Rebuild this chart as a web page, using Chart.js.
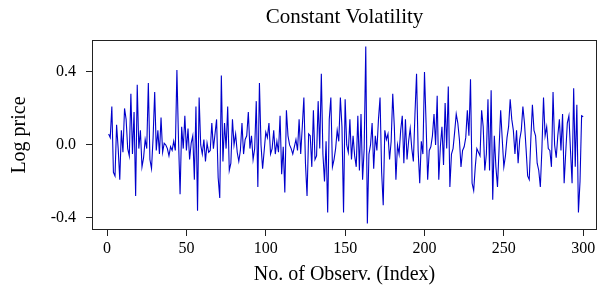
<!DOCTYPE html>
<html>
<head>
<meta charset="utf-8">
<script src="https://cdn.jsdelivr.net/npm/chart.js@4/dist/chart.umd.min.js"></script>
<style>
  html, body { margin: 0; padding: 0; background: #fff; }
  #wrap { width: 603px; height: 303px; }
</style>
</head>
<body>
<div id="wrap"><canvas id="c" width="603" height="303"></canvas></div>
<script>
const obs001 = [
  0.06, 0.04, 0.21, -0.15, -0.17, 0.11, -0.02, -0.19, 0.08, -0.04,
  0.20, 0.14, -0.02, -0.06, 0.28, -0.05, 0.18, -0.28, 0.33, -0.02,
  0.08, -0.12, -0.07, 0.03, -0.02, 0.34, -0.08, -0.13, 0.04, 0.29,
  -0.03, 0.08, -0.05, 0.15, -0.04, 0.01, 0.00, -0.02, -0.06, -0.01,
  -0.03, 0.02, -0.03, 0.41, 0.03, -0.27, 0.10, -0.02, 0.16, -0.03
];
const obs051 = [
  0.09, -0.08, 0.01, 0.05, -0.19, 0.21, -0.36, 0.26, 0.00, -0.05,
  0.03, -0.09, 0.01, -0.04, -0.03, 0.12, -0.02, 0.06, 0.14, -0.18,
  -0.29, 0.38, -0.09, 0.12, -0.02, 0.21, -0.14, -0.10, 0.14, 0.00,
  0.06, -0.04, -0.09, -0.03, 0.12, -0.05, 0.03, 0.05, 0.18, -0.02,
  0.05, -0.08, -0.02, 0.24, -0.23, 0.34, 0.00, -0.13, -0.03, 0.07
];
const obs101 = [
  0.04, 0.12, -0.05, -0.02, 0.08, -0.05, 0.02, -0.04, 0.16, -0.16,
  -0.01, -0.26, 0.19, 0.05, 0.00, -0.02, -0.05, -0.01, 0.03, -0.03,
  0.14, -0.05, 0.10, 0.26, -0.10, -0.28, 0.06, 0.05, -0.12, 0.19,
  -0.08, -0.06, 0.24, -0.02, 0.39, -0.05, -0.20, 0.02, -0.37, 0.14,
  0.26, -0.12, -0.08, -0.02, 0.08, 0.02, 0.26, 0.10, -0.37, 0.25
];
const obs151 = [
  0.00, -0.04, 0.14, -0.08, 0.05, -0.06, -0.12, 0.16, -0.14, 0.17,
  -0.19, -0.02, 0.54, -0.43, -0.05, 0.00, 0.12, -0.13, 0.05, -0.03,
  0.14, 0.26, -0.15, -0.33, 0.08, 0.03, 0.06, -0.08, 0.02, 0.28,
  0.10, -0.19, 0.00, -0.05, 0.08, 0.16, -0.10, 0.14, -0.08, 0.02,
  0.09, -0.02, -0.09, 0.17, 0.39, -0.03, -0.21, 0.02, -0.05, 0.40
];
const obs201 = [
  0.12, -0.19, -0.03, -0.01, 0.05, 0.17, 0.00, 0.27, -0.19, -0.01,
  0.10, -0.11, 0.23, -0.02, 0.32, -0.23, -0.05, -0.02, 0.07, 0.17,
  0.12, 0.03, -0.12, -0.03, -0.01, 0.04, 0.19, 0.05, 0.36, -0.21,
  -0.25, -0.12, -0.02, -0.04, -0.06, 0.19, 0.10, -0.14, -0.05, 0.25,
  -0.14, 0.30, -0.30, 0.05, -0.12, -0.23, -0.02, 0.19, 0.03, -0.12
];
const obs251 = [
  -0.06, 0.04, 0.10, 0.25, 0.14, 0.08, -0.05, 0.08, -0.10, 0.03,
  0.08, 0.21, 0.12, -0.02, -0.17, -0.19, 0.03, 0.22, 0.08, 0.05,
  -0.10, -0.14, -0.23, -0.02, 0.26, 0.05, 0.10, -0.02, -0.03, -0.12,
  0.29, 0.00, -0.07, 0.05, 0.14, -0.03, 0.17, -0.21, -0.04, 0.12,
  0.16, -0.03, -0.21, 0.31, -0.12, 0.22, -0.37, -0.20, 0.16, 0.155
];

const xTicks = [0, 50, 100, 150, 200, 250, 300];
const yTicks = [-0.4, 0.0, 0.4];
const chartTitle = 'Constant Volatility';
const xTitle = 'No. of Observ. (Index)';
const yTitle = 'Log price';

const logPrice = [].concat(obs001, obs051, obs101, obs151, obs201, obs251);
const index = logPrice.map((v, i) => i + 1);

const serif = '"Liberation Serif", "Times New Roman", serif';

// frame round the plot area and the title centred over it
const framePlugin = {
  id: 'frame',
  afterDraw(chart) {
    const { ctx, chartArea: a } = chart;
    ctx.save();
    ctx.strokeStyle = '#222';
    ctx.lineWidth = 1;
    ctx.strokeRect(a.left + 0.5, a.top + 0.5, a.right - a.left - 1, a.bottom - a.top - 1);
    ctx.fillStyle = '#000';
    ctx.font = '21px ' + serif;
    ctx.textAlign = 'center';
    ctx.textBaseline = 'middle';
    ctx.fillText(chartTitle, (a.left + a.right) / 2, 17);
    ctx.restore();
  }
};

new Chart(document.getElementById('c'), {
  type: 'line',
  data: {
    datasets: [{
      label: yTitle,
      data: index.map((x, i) => ({ x: x, y: logPrice[i] })),
      borderColor: '#0000cc',
      borderWidth: 1.1,
      pointRadius: 0,
      tension: 0,
      fill: false
    }]
  },
  options: {
    responsive: false,
    animation: false,
    layout: { padding: { top: 40, right: 6, left: 0, bottom: 0 } },
    plugins: {
      legend: { display: false },
      tooltip: { enabled: false }
    },
    scales: {
      x: {
        type: 'linear',
        min: -9.5,
        max: 308.7,
        afterFit: (s) => { s.height = 73; },
        afterBuildTicks: (s) => { s.ticks = xTicks.map(v => ({ value: v })); },
        grid: { drawOnChartArea: false, drawTicks: true, tickLength: 6, color: '#222' },
        border: { display: false },
        ticks: { color: '#000', font: { family: serif, size: 16 }, padding: 3, maxRotation: 0 },
        title: {
          display: true,
          text: xTitle,
          color: '#000',
          font: { family: serif, size: 20 },
          padding: { top: 0, bottom: 16 }
        }
      },
      y: {
        min: -0.466,
        max: 0.575,
        afterFit: (s) => { s.width = 92; },
        afterBuildTicks: (s) => { s.ticks = yTicks.map(v => ({ value: v })); },
        grid: { drawOnChartArea: false, drawTicks: true, tickLength: 6, color: '#222' },
        border: { display: false },
        ticks: {
          color: '#000',
          font: { family: serif, size: 16 },
          padding: 10,
          callback: (v) => v.toFixed(1)
        },
        title: {
          display: true,
          text: yTitle,
          color: '#000',
          font: { family: serif, size: 20 },
          padding: { top: 8, bottom: 0 }
        }
      }
    }
  },
  plugins: [framePlugin]
});
</script>
</body>
</html>
